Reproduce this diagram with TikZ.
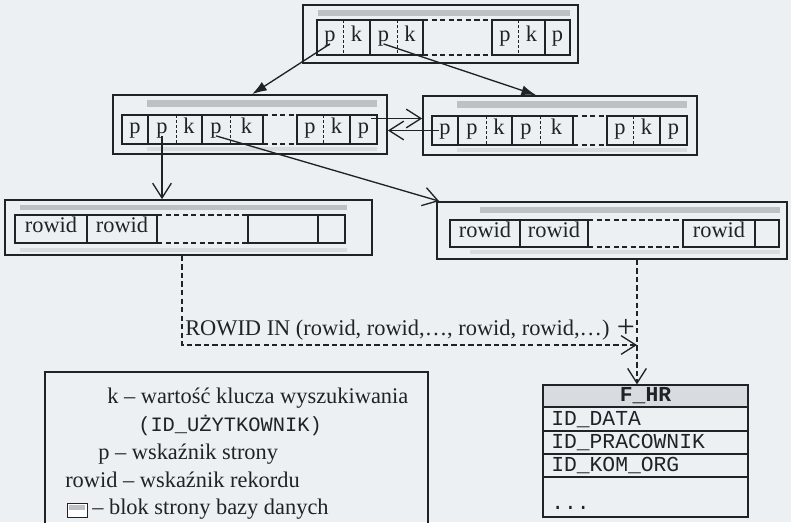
\documentclass[tikz,border=0pt]{standalone}
\usepackage{fontspec}
\setmainfont{Liberation Serif}
\setmonofont{Liberation Mono}
\usepackage{tikz}
\usetikzlibrary{arrows.meta,positioning,calc,fit}
\usepackage{xcolor}
\definecolor{tlo}{HTML}{EDF0F3}
\definecolor{linia}{HTML}{1D2327}
\definecolor{pasek}{HTML}{BDC0C5}
\definecolor{pasekjasny}{HTML}{D8DBDF}

\begin{document}
\begin{tikzpicture}[x=.75pt, y=-.75pt, font=\fontsize{16.8}{19}\selectfont, text=linia,
    blok/.style={draw=linia, line width=1.3pt, inner sep=0pt},
    kom/.style={draw=linia, line width=1pt},
    lit/.style={inner sep=0pt, text height=1.6ex, text depth=.4ex},
    podz/.style={draw=linia, line width=.7pt, dash pattern=on 2.2pt off 1.6pt},
    przer/.style={dash pattern=on 4pt off 2.4pt},
    ptr/.style={draw=linia, line width=1pt, -{Latex[length=11pt,width=7.5pt]}},
    otw/.style={draw=linia, line width=1pt, -{Straight Barb[length=11pt,width=14pt]}},
    mono/.style={font=\fontsize{16}{19}\selectfont\ttfamily}]
  \fill[tlo] (0,0) rectangle (791,522);
  \useasboundingbox (0,0) rectangle (791,522);

  % korzen indeksu
  \node[blok, fit={(303,5) (578,63)}] (korzen) {};
  \fill[pasek] (318,10) rectangle (570,16);
  \foreach \a/\b/\c [count=\i] in {317/343/370, 370/397/423, 492/518/545}{
    \draw[kom] (\a,20) rectangle (\c,55);
    \draw[podz] (\b,20) -- (\b,55);
    \node[lit] (korzen-p\i) at ({(\a+\b)/2},37.5) {p};
    \node[lit] (korzen-k\i) at ({(\b+\c)/2},37.5) {k};
  }
  \draw[kom, przer] (423,20) -- (492,20) (423,55) -- (492,55);
  \draw[kom] (545,20) rectangle (570,55);
  \node[lit] (korzen-p4) at (557.5,37.5) {p};

  % drugi poziom
  \foreach \nazwa/\dx/\dy in {lewy/0/0, prawy/310/1}{
    \begin{scope}[shift={(\dx,\dy)}]
      \node[blok, fit={(113,95) (387,154)}] (\nazwa) {};
      \fill[pasek] (147,100) rectangle (377,107);
      \fill[pasekjasny] (147,147) rectangle (377,151);
      \draw[kom] (122,115) rectangle (148,144);
      \node[lit] (\nazwa-p0) at (135,129.5) {p};
      \foreach \a/\b/\c [count=\i] in {148/176/202, 202/230/263, 297/323/350}{
        \draw[kom] (\a,115) rectangle (\c,144);
        \draw[podz] (\b,115) -- (\b,144);
        \node[lit] (\nazwa-p\i) at ({(\a+\b)/2},129.5) {p};
        \node[lit] (\nazwa-k\i) at ({(\b+\c)/2},129.5) {k};
      }
      \draw[kom, przer] (263,115) -- (297,115) (263,144) -- (297,144);
      \draw[kom] (350,115) rectangle (377,144);
      \node[lit] (\nazwa-p4) at (363.5,129.5) {p};
    \end{scope}
  }

  % liscie
  \node[blok, fit={(5,200) (372,255)}] (lisc1) {};
  \fill[pasek] (20,205) rectangle (347,210);
  \fill[pasekjasny] (20,248) rectangle (347,252);
  \foreach \a/\c/\t [count=\i] in {15/87/rowid, 87/157/rowid, 248/318/, 318/345/}{
    \draw[kom] (\a,215) rectangle (\c,243);
    \node[lit] (lisc1-\i) at ({(\a+\c)/2},229) {\t};
  }
  \draw[kom, przer] (157,215) -- (248,215) (157,243) -- (248,243);

  \node[blok, fit={(437,202) (787,259)}] (lisc2) {};
  \fill[pasek] (480,207) rectangle (780,213);
  \fill[pasekjasny] (470,250) rectangle (780,254);
  \foreach \a/\c/\t [count=\i] in {450/520/rowid, 520/588/rowid, 683/755/rowid, 755/779/}{
    \draw[kom] (\a,220) rectangle (\c,247);
    \node[lit] (lisc2-\i) at ({(\a+\c)/2},233.5) {\t};
  }
  \draw[kom, przer] (588,220) -- (683,220) (588,247) -- (683,247);

  % tabela faktow
  \node[kom, fill=pasekjasny, inner sep=0pt, fit={(543,385) (748,407)}] (fhr) {};
  \node[inner sep=0pt, anchor=base, font=\fontsize{16}{19}\selectfont\ttfamily\bfseries] (fhr-naz) at ($(fhr.south)+(0,-6)$) {F\_HR};
  \foreach \t/\ya/\yb [count=\i] in {ID\_DATA/407/431, ID\_PRACOWNIK/431/454, ID\_KOM\_ORG/454/477}{
    \draw[kom] (543,\ya) rectangle (748,\yb);
    \node[mono, anchor=base west, inner sep=0pt] (fhr-\i) at (551,\yb-6) {\t};
  }
  \draw[kom] (543,477) rectangle (748,517);
  \node[mono, anchor=base west, inner sep=0pt] (fhr-4) at (551,509) {...};

  % legenda
  \draw[kom, line width=1.2pt] (45,523) |- (428,372) -- (428,523);
  \node[anchor=base west, inner sep=0pt] (leg-k) at (107,403) {k – wartość klucza wyszukiwania};
  \node[anchor=base west, inner sep=0pt, font=\fontsize{15.3}{18}\selectfont\ttfamily] (leg-id) at (138,431) {(ID\_UŻYTKOWNIK)};
  \node[anchor=base west, inner sep=0pt] (leg-p) at (98,459) {p – wskaźnik strony};
  \node[anchor=base west, inner sep=0pt] (leg-r) at (65,487) {rowid – wskaźnik rekordu};
  \draw[kom, line width=.7pt, fill=white] (67,503) rectangle (87,517);
  \fill[pasek] (69,505) rectangle (85,510);
  \node[anchor=base west, inner sep=0pt] (leg-b) at (92,514) {– blok strony bazy danych};

  % wskazniki
  \draw[ptr] (korzen-p1.south) -- ($(lewy.north west)+(140,0)$);
  \draw[ptr] (korzen-p2.south) -- ($(prawy.north west)+(114,0)$);
  \draw[otw] (lewy-p1.south) -- (lewy-p1.south |- lisc1.north);
  \draw[otw] (lewy-p2.south) -- ($(lisc2.north west)+(3,0)$);
  \coordinate (lewy-w) at ($(lewy-p4.east)+(2,-11)$);
  \draw[otw] (lewy-w) -- (lewy-w -| prawy.west);
  \draw[otw] (prawy-p0.west) -- (prawy-p0.west -| lewy.east);

  % dostep po rowid
  \coordinate (wyj1) at (lisc1.south -| 182,0);
  \coordinate (wyj2) at (lisc2.south -| 637,0);
  \coordinate (zbieg) at (wyj2 |- 0,345);
  \draw[otw, przer] (wyj1) |- (zbieg);
  \draw[otw, przer] (wyj2) -- (wyj2 |- fhr.north);
  \node[anchor=base west, inner sep=0pt] (warunek) at (185,335) {ROWID IN (rowid, rowid,…, rowid, rowid,…)};
  \node[inner sep=0pt, font=\fontsize{24}{26}\selectfont] (plus) at (626,328) {+};
\end{tikzpicture}
\end{document}
